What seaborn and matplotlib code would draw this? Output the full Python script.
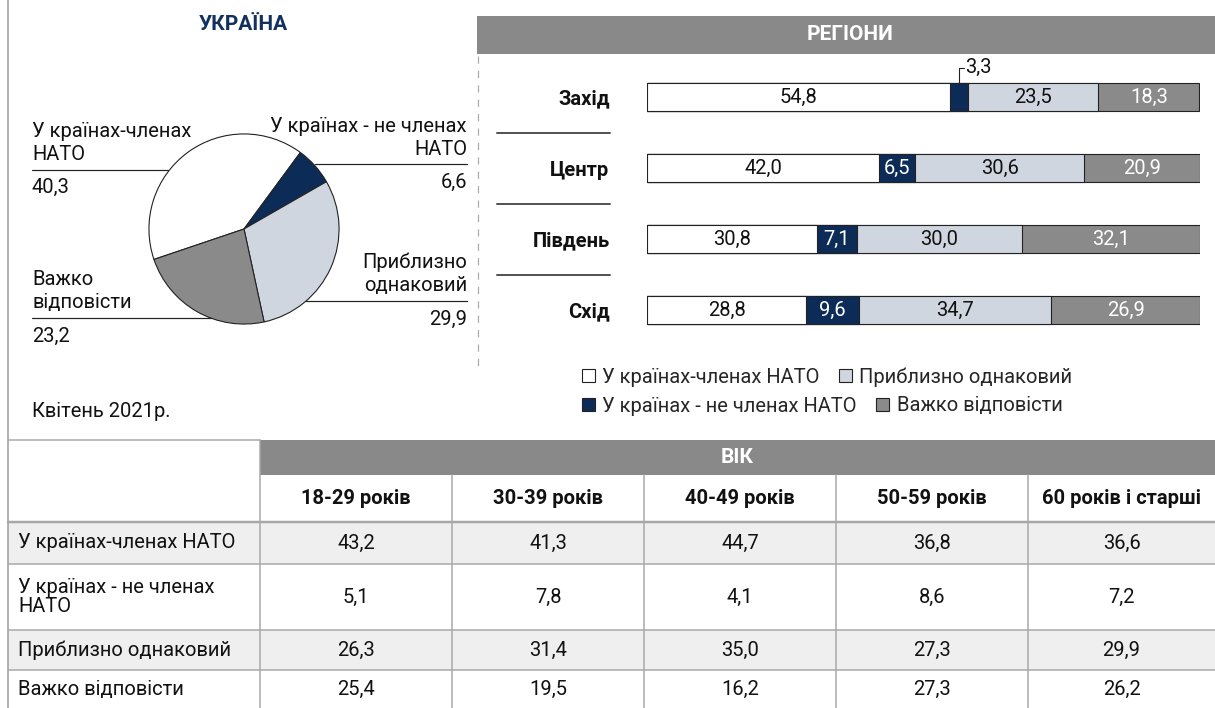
import numpy as np
import pandas as pd
import matplotlib
matplotlib.use('Agg')
import matplotlib.pyplot as plt
import seaborn as sns
from matplotlib.patches import Patch, Rectangle

# ---- data ----
pie_labels = ['У країнах-членах\nНАТО', 'У країнах - не членах\nНАТО',
              'Приблизно\nоднаковий', 'Важко\nвідповісти']
pie_values = [40.3, 6.6, 29.9, 23.2]

regions = ['Захід', 'Центр', 'Південь', 'Схід']
nato_members = [54.8, 42.0, 30.8, 28.8]
non_members = [3.3, 6.5, 7.1, 9.6]
about_same = [23.5, 30.6, 30.0, 34.7]
hard_to_say = [18.3, 20.9, 32.1, 26.9]
series_names = ['У країнах-членах НАТО', 'У країнах - не членах НАТО',
                'Приблизно однаковий', 'Важко відповісти']

age_groups = ['18-29 років', '30-39 років', '40-49 років', '50-59 років', '60 років і старші']
table_rows = ['У країнах-членах НАТО', 'У країнах - не членах\nНАТО',
              'Приблизно однаковий', 'Важко відповісти']
age_nato = [43.2, 41.3, 44.7, 36.8, 36.6]
age_non = [5.1, 7.8, 4.1, 8.6, 7.2]
age_same = [26.3, 31.4, 35.0, 27.3, 29.9]
age_hard = [25.4, 19.5, 16.2, 27.3, 26.2]

NAVY = '#0c2c57'
LIGHT = '#cfd6df'
DARK = '#8a8a8a'
BAND = '#898989'
ROWBG = '#efefef'
GRID = '#a8a8a8'
EDGE = '#222222'
FS = 14.5
FB = 15

sns.set_theme(style='white')
plt.rcParams['font.family'] = ['Roboto', 'DejaVu Sans']

W, H = 1215, 708
PT = 0.72  # px -> pt


def fmt(v):
    return f'{v:.1f}'.replace('.', ',')


def rect(x0, y0, x1, y1):
    return [x0 / W, 1 - y1 / H, (x1 - x0) / W, (y1 - y0) / H]


fig = plt.figure(figsize=(W / 100, H / 100), dpi=100)
bg = fig.add_axes([0, 0, 1, 1])
bg.set_xlim(0, W)
bg.set_ylim(H, 0)
bg.axis('off')

# left frame line
bg.plot([8, 8], [0, H], color='#9a9a9a', lw=1.5 * PT)

# ---- pie: Україна ----
bg.text(243, 25, 'УКРАЇНА', ha='center', va='center', fontsize=FB,
        fontweight='bold', color='#12315f')
cx, cy, r = 244, 229, 96
pax = fig.add_axes(rect(cx - r, cy - r, cx + r, cy + r))
pie_colors = ['white', NAVY, LIGHT, DARK]
first_edge = 53.6
pax.pie(pie_values, colors=pie_colors, counterclock=False,
        startangle=first_edge + 3.6 * pie_values[0],
        wedgeprops=dict(edgecolor=EDGE, linewidth=0.8))
pax.set_xlim(-1.01, 1.01)
pax.set_ylim(-1.01, 1.01)
pax.set_aspect('equal')

# label blocks: (text, x, align, first baseline, rule y, rule x0, rule x1, value baseline, value)
blocks = [
    (pie_labels[0], 32, 'left', 137, 170, 32, 168, 193, pie_values[0]),
    (pie_labels[1], 467, 'right', 132, 164, 315, 467, 188, pie_values[1]),
    (pie_labels[2], 467, 'right', 268, 301, 306, 467, 325, pie_values[2]),
    (pie_labels[3], 32, 'left', 285, 318, 32, 212, 342, pie_values[3]),
]
for lab, x, ha, base, ry, rx0, rx1, vb, val in blocks:
    for j, line in enumerate(lab.split('\n')):
        bg.text(x, base + 23 * j, line, ha=ha, va='baseline', fontsize=FS, color='#111')
    bg.plot([rx0, rx1], [ry, ry], color=EDGE, lw=1.2 * PT)
    bg.text(x, vb, fmt(val), ha=ha, va='baseline', fontsize=FS, color='#111')

bg.text(32, 417, 'Квітень 2021р.', ha='left', va='baseline', fontsize=FS, color='#111')

# ---- bars: регіони ----
bg.add_patch(Rectangle((477, 16), W - 477, 38, color=BAND, lw=0))
bg.text(850, 35, 'РЕГІОНИ', ha='center', va='center', fontsize=FB,
        fontweight='bold', color='white')
bg.plot([478, 478], [56, 370], color='#aaaaaa', lw=1.2 * PT, ls=(0, (6, 6)))

top_c, step = 97, 71
bax = fig.add_axes(rect(647, top_c - step / 2, 1200, top_c + 3 * step + step / 2))
bax.set_facecolor('none')
series = [nato_members, non_members, about_same, hard_to_say]
cum = np.cumsum(series, axis=0)
for k in range(3, -1, -1):
    sns.barplot(x=cum[k], y=regions, orient='h', color=pie_colors[k], saturation=1,
                width=0.4, edgecolor=EDGE, linewidth=0.8, ax=bax)
bax.set_xlim(0, 100)
bax.set_ylim(3.5, -0.5)
bax.set_xticks([])
bax.set_xlabel('')
bax.set_ylabel('')
sns.despine(ax=bax, left=True, bottom=True)
bax.tick_params(axis='y', length=0, pad=27)
for t in bax.get_yticklabels():
    t.set_fontweight('bold')
    t.set_fontsize(FS)
    t.set_color('#111')

txt_colors = ['#111', 'white', '#111', 'white']
for i in range(len(regions)):
    left = 0
    for k, vals in enumerate(series):
        v = vals[i]
        c = left + v / 2
        if v < 5:
            y0 = i - 0.2
            y1 = y0 - 0.21
            bax.plot([c, c, c + 0.9], [y0, y1, y1], color=EDGE, lw=0.8)
            bax.text(c + 1.0, y1, fmt(v), ha='left', va='center', fontsize=FS, color='#111')
        else:
            bax.text(c, i, fmt(v), ha='center', va='center', fontsize=FS, color=txt_colors[k])
        left += v

for i in range(len(regions) - 1):
    y = top_c + step * (i + 0.5)
    bg.plot([497, 610], [y, y], color='#555555', lw=2 * PT)

# legend, two centred rows
kw = dict(frameon=False, fontsize=FS, handlelength=0.65, handleheight=0.65,
          handletextpad=0.35, columnspacing=1.0, borderpad=0, borderaxespad=0,
          ncol=2, loc='center', bbox_transform=bg.transData)
h = [Patch(facecolor=pie_colors[k], edgecolor=EDGE, lw=0.8, label=series_names[k]) for k in range(4)]
leg1 = bg.legend(handles=[h[0], h[2]], bbox_to_anchor=(827, 377), **kw)
bg.add_artist(leg1)
bg.legend(handles=[h[1], h[3]], bbox_to_anchor=(822, 406), **kw)

# ---- table: вік ----
col_x = [8, 260, 452, 644, 836, 1028, W]
row_y = [522, 564, 630, 670, 708]
table_vals = [age_nato, age_non, age_same, age_hard]

for rr in (0, 2):
    bg.add_patch(Rectangle((8, row_y[rr]), W - 8, row_y[rr + 1] - row_y[rr], color=ROWBG, lw=0))
bg.add_patch(Rectangle((260, 440), W - 260, 35, color=BAND, lw=0))
bg.text((260 + W) / 2, 457.5, 'ВІК', ha='center', va='center', fontsize=FB,
        fontweight='bold', color='white')

bg.plot([8, 260], [440, 440], color=GRID, lw=1.5 * PT)
bg.plot([8, W], [522, 522], color=GRID, lw=2.5 * PT)
for y in row_y[1:-1]:
    bg.plot([8, W], [y, y], color=GRID, lw=1.5 * PT)
bg.plot([260, 260], [440, H], color=GRID, lw=1.5 * PT)
for x in col_x[2:-1]:
    bg.plot([x, x], [475, H], color=GRID, lw=1.5 * PT)

for j, g in enumerate(age_groups):
    xc = (col_x[j + 1] + col_x[j + 2]) / 2
    bg.text(xc, 499, g, ha='center', va='center', fontsize=FS, fontweight='bold', color='#111')
for rr, lab in enumerate(table_rows):
    yc = (row_y[rr] + row_y[rr + 1]) / 2
    bg.text(18, yc, lab, ha='left', va='center', fontsize=FS, color='#111', linespacing=1.0)
    for j, v in enumerate(table_vals[rr]):
        xc = (col_x[j + 1] + col_x[j + 2]) / 2
        bg.text(xc, yc, fmt(v), ha='center', va='center', fontsize=FS, color='#111')

fig.savefig('out.png', dpi=100)
